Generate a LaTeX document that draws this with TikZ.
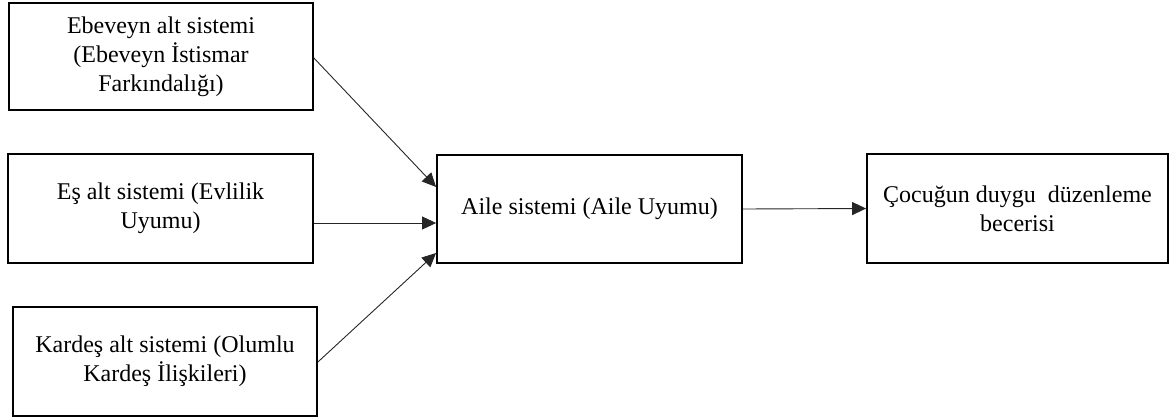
\documentclass[tikz,border=0pt]{standalone}
\usepackage{fontspec}
\setmainfont{Liberation Serif}
\usetikzlibrary{arrows.meta,calc}
\begin{document}
\begin{tikzpicture}[x=1pt,y=-1pt,
  box/.style={draw=black,line width=1.8pt,rectangle,align=center,inner sep=0pt,
    font=\fontsize{24}{29}\selectfont},
  arr/.style={draw=black!85,line width=0.9pt,-{Triangle[length=14pt,width=13pt]}}]
\useasboundingbox (0,0) rectangle (1171,418);
\node[box,minimum width=304pt,minimum height=107pt] (b1) at (161,56.5)
  {Ebeveyn alt sistemi\\(Ebeveyn İstismar\\Farkındalığı)};
\node[box,minimum width=305pt,minimum height=109pt] (b2) at (160.5,208.5)
  {Eş alt sistemi (Evlilik\\Uyumu)};
\node[box,minimum width=304pt,minimum height=109pt] (b3) at (165,361.5)
  {Kardeş alt sistemi (Olumlu\\Kardeş İlişkileri)};
\node[box,minimum width=305pt,minimum height=108pt] (c) at (589.5,209)
  {Aile sistemi (Aile Uyumu)};
\node[box,minimum width=301pt,minimum height=109pt] (r) at (1017.5,208.5)
  {Çocuğun duygu\ \ düzenleme\\becerisi};
\draw[arr] ($(b1.east)+(0,1.5)$) -- ($(c.west)+(0,-22)$);
\draw[arr] ($(b2.east)+(0,14.5)$) -- ($(c.west)+(0,14)$);
\draw[arr] ($(b3.east)+(0,0.5)$) -- ($(c.west)+(0,44)$);
\draw[arr] (c.east) -- (r.west);
\end{tikzpicture}
\end{document}
